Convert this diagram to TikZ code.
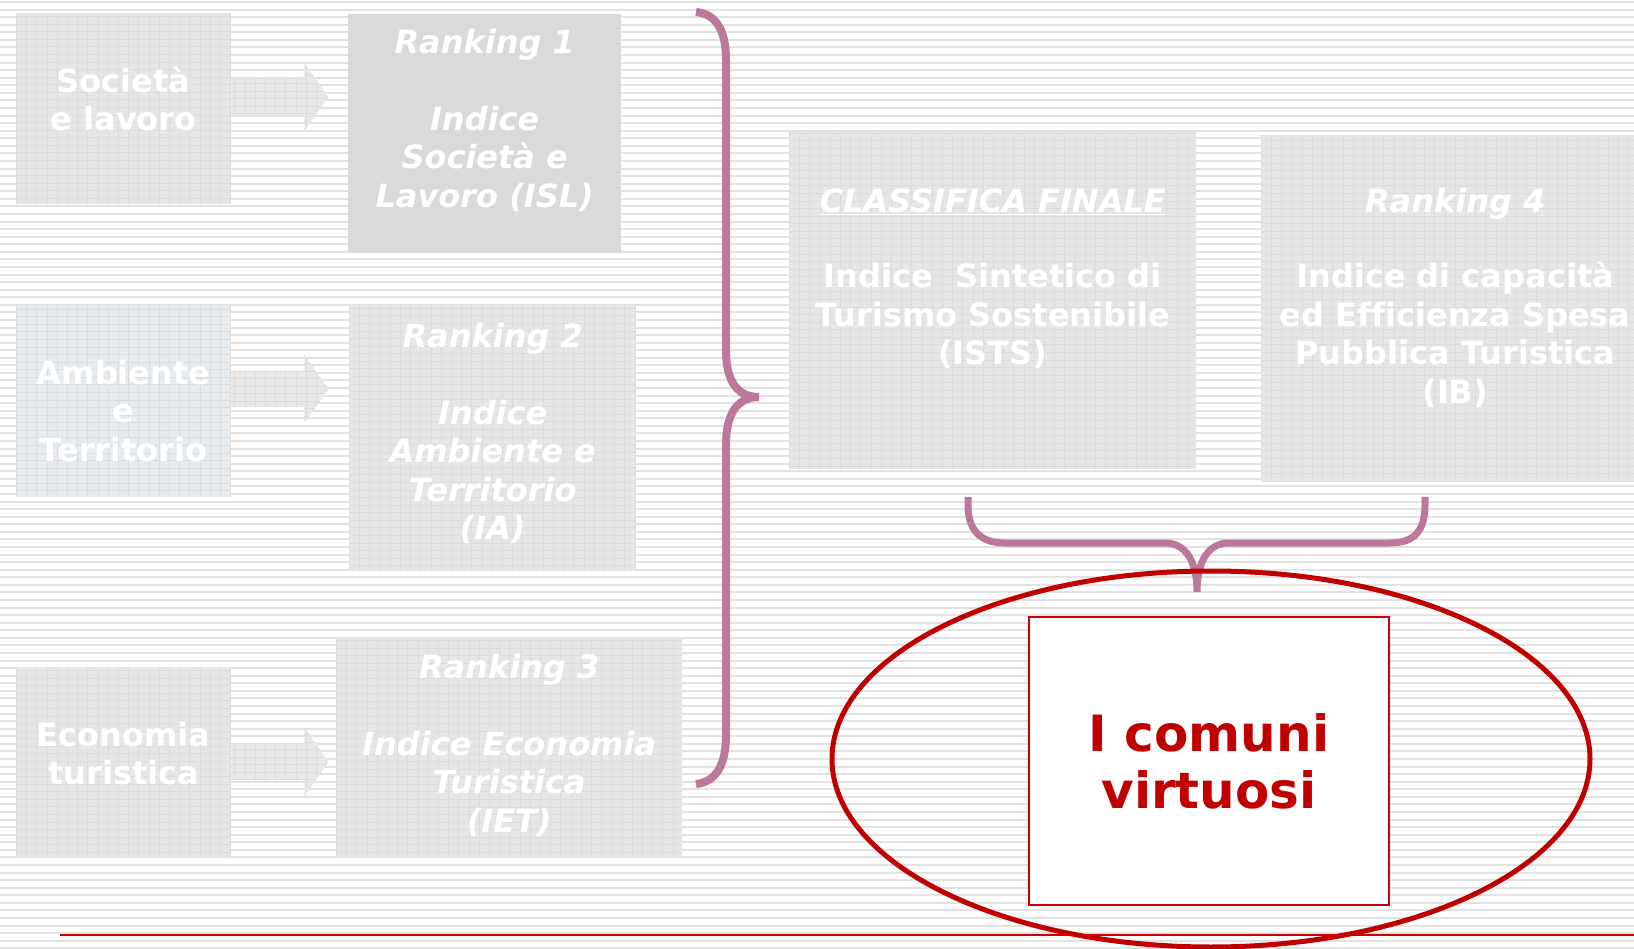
\documentclass[tikz,border=0pt]{standalone}
\usepackage{fontspec}
\setmainfont[Ligatures=NoCommon]{DejaVu Sans}
\usetikzlibrary{calc,shapes.geometric}
\definecolor{stripec}{RGB}{226,226,226}
\definecolor{boxA}{RGB}{230,230,230}
\definecolor{boxR1}{RGB}{217,217,217}
\definecolor{boxBlue}{RGB}{230,235,240}
\definecolor{gridc}{RGB}{219,219,219}
\definecolor{arrowc}{RGB}{232,232,232}
\definecolor{bracec}{RGB}{188,120,155}
\definecolor{darkred}{RGB}{192,0,0}
\definecolor{linered}{RGB}{204,0,0}
\newcommand{\bxt}[4]{\begin{minipage}[c][#1][t]{#2}\centering\rule{0pt}{#3}#4\end{minipage}}
\begin{document}
\begin{tikzpicture}[x=1pt,y=-1pt,
  stripeln/.style={draw=stripec, line width=2pt},
  gridpic/.style={path picture={\draw[gridc, line width=0.6pt, xstep=10.2pt, ystep=7.57pt]
        (path picture bounding box.south west) grid (path picture bounding box.north east);}},
  gbox/.style={fill=boxA, inner sep=0pt, anchor=north west, text=white,
     font=\fontsize{32}{38.5}\selectfont\bfseries, gridpic},
  solidbox/.style={gbox, fill=boxR1, path picture={}},
  blockarrow/.style={fill=arrowc, gridpic},
  bracestroke/.style={draw=bracec, line width=8pt},
  ringstyle/.style={ellipse, draw=darkred, line width=5pt, minimum width=758pt, minimum height=376pt, inner sep=0pt},
  finalbox/.style={draw=linered, fill=white, line width=1.5pt, minimum width=360pt, minimum height=288pt,
     inner sep=0pt, text=darkred, font=\fontsize{50}{57}\selectfont\bfseries, align=center}
]
\fill[white] (0,0) rectangle (1634,949);
\useasboundingbox (0,0) rectangle (1634,949);
\foreach \i in {0,...,125} \draw[stripeln] (0,{2+\i*7.57}) -- (1634,{2+\i*7.57});

% left boxes
\node[gbox] (soc) at (16,13) {\bxt{191pt}{215pt}{79pt}{Società\\e lavoro}};
\node[gbox, fill=boxBlue] (amb) at (16,305) {\bxt{192pt}{215pt}{79pt}{Ambiente\\e\\Territorio}};
\node[gbox] (eco) at (16,667) {\bxt{191pt}{215pt}{79pt}{Economia\\turistica}};

% ranking boxes
\node[solidbox] (r1) at (348,14) {\bxt{239pt}{273pt}{39pt}{\itshape Ranking 1\\[38.5pt]Indice\\Società e\\Lavoro (ISL)}};
\node[gbox] (r2) at (349,305) {\bxt{266pt}{287pt}{42pt}{\itshape Ranking 2\\[38.5pt]Indice\\Ambiente e\\Territorio\\(IA)}};
\node[gbox] (r3) at (336,637) {\bxt{221pt}{346pt}{41pt}{\itshape Ranking 3\\[38.5pt]Indice Economia\\Turistica\\(IET)}};
\node[gbox] (fin) at (789,132) {\bxt{337pt}{407pt}{80pt}{{\itshape\underline{CLASSIFICA FINALE}}\\[37pt]Indice\ \ Sintetico di\\Turismo Sostenibile\\(ISTS)}};
\node[gbox] (r4) at (1261,135) {\bxt{346pt}{388pt}{77pt}{{\itshape Ranking 4}\\[37pt]Indice di capacità\\ed Efficienza Spesa\\Pubblica Turistica\\(IB)}};

% block arrows
\fill[blockarrow] ($(soc.north east)+(0,84)$) ++(0,-18) -- ++(73,0) -- ++(0,-16) -- ++(24,34) -- ++(-24,34) -- ++(0,-16) -- ++(-73,0) -- cycle;
\fill[blockarrow] ($(amb.north east)+(0,84)$) ++(0,-18) -- ++(73,0) -- ++(0,-16) -- ++(24,34) -- ++(-24,34) -- ++(0,-16) -- ++(-73,0) -- cycle;
\fill[blockarrow] ($(eco.north east)+(0,95)$) ++(0,-18) -- ++(73,0) -- ++(0,-16) -- ++(24,34) -- ++(-24,34) -- ++(0,-16) -- ++(-73,0) -- cycle;

% large brace
\draw[bracestroke] (696,12) .. controls (716,14) and (726,30) .. (726,60) -- (726,350)
  .. controls (726,385) and (740,397) .. (759,397)
  .. controls (740,397) and (726,410) .. (726,445) -- (726,735)
  .. controls (726,765) and (716,782) .. (696,784);

% bottom brace
\draw[bracestroke, line width=7pt] (968,497) -- (968,505) .. controls (968,530) and (980,543) .. (1005,543) -- (1165,543)
  .. controls (1185,543) and (1197,560) .. (1197,592)
  .. controls (1197,560) and (1209,543) .. (1229,543) -- (1390,543)
  .. controls (1415,543) and (1425,530) .. (1425,505) -- (1425,497);

% result
\node[ringstyle] (ring) at (1211,759) {};
\node[finalbox] (cv) at (1209,761) {I comuni\\virtuosi};

\draw[linered, line width=1.2pt] (60,935) -- (1634,935);
\end{tikzpicture}
\end{document}
